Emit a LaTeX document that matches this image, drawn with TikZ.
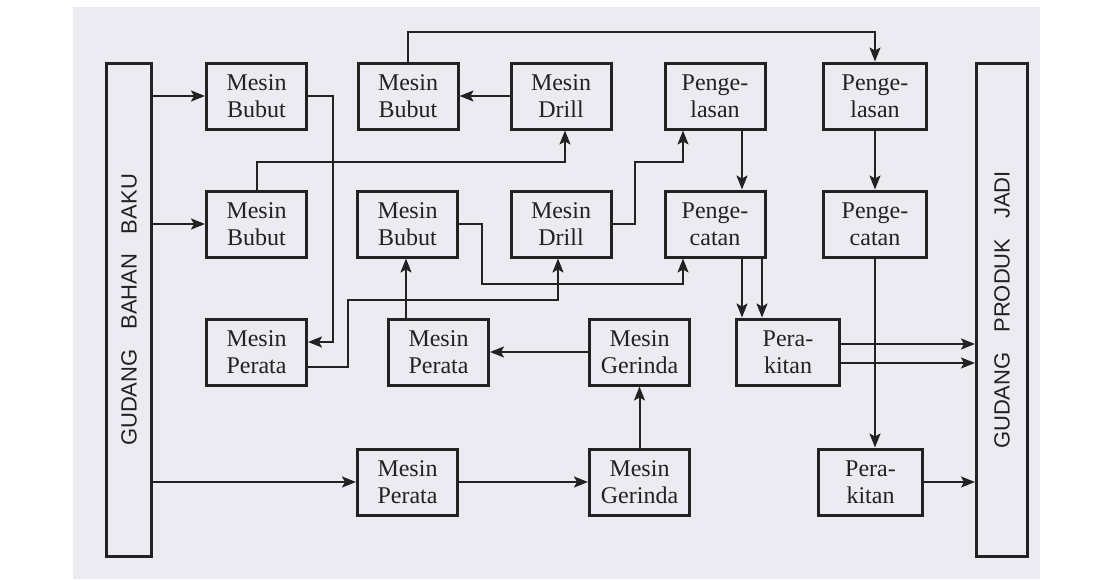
\documentclass[tikz,border=0pt]{standalone}
\usepackage{fontspec}
\setmainfont{Liberation Serif}
\newfontfamily\storefont{Liberation Sans}
\usetikzlibrary{arrows.meta,calc}
\definecolor{paper}{HTML}{EDEBF2}
\definecolor{ink}{HTML}{222222}

\begin{document}
\begin{tikzpicture}[x=1pt,y=-1pt,
  unit/.style={draw=ink, line width=3pt, minimum width=100pt, minimum height=66pt,
    inner sep=0pt, align=center, text=ink, font=\fontsize{24}{27}\selectfont},
  store/.style={draw=ink, line width=3pt, minimum height=493pt, inner sep=0pt,
    text=ink, font=\storefont\fontsize{22}{24}\selectfont},
  flow/.style={draw=ink, line width=2pt, -{Stealth[length=14pt,width=11pt,inset=3pt]}}
]
% sheet
\useasboundingbox (0,0) rectangle (1106,579);
\fill[white] (0,0) rectangle (1106,579);
\fill[paper] (73,7) rectangle (1040,579);

% warehouses
\node[store, minimum width=45pt] (gbb) at (129,310)
  {\rotatebox{90}{GUDANG\hspace{0.9em}BAHAN\hspace{0.9em}BAKU}};
\node[store, minimum width=51pt] (gpj) at (1002,310)
  {\rotatebox{90}{GUDANG\hspace{0.9em}PRODUK\hspace{0.9em}JADI}};

% row 1
\node[unit] (bb1) at (256.5,96) {Mesin\\Bubut};
\node[unit] (bb2) at (408,96)   {Mesin\\Bubut};
\node[unit] (dr1) at (561,96)   {Mesin\\Drill};
\node[unit] (pl1) at (715,96)   {Penge-\\lasan};
\node[unit, minimum width=103pt] (pl2) at (875,96) {Penge-\\lasan};
% row 2
\node[unit] (bb3) at (256.5,224) {Mesin\\Bubut};
\node[unit] (bb4) at (407.5,224) {Mesin\\Bubut};
\node[unit] (dr2) at (561,224)   {Mesin\\Drill};
\node[unit] (pc1) at (715,224)   {Penge-\\catan};
\node[unit, minimum width=103pt] (pc2) at (875,224) {Penge-\\catan};
% row 3
\node[unit] (pr1) at (256.5,352) {Mesin\\Perata};
\node[unit] (pr2) at (438.5,352) {Mesin\\Perata};
\node[unit] (gr1) at (639.5,352) {Mesin\\Gerinda};
\node[unit, minimum width=103pt] (pk1) at (788,352) {Pera-\\kitan};
% row 4
\node[unit] (pr3) at (407.5,482) {Mesin\\Perata};
\node[unit] (gr2) at (639.5,482) {Mesin\\Gerinda};
\node[unit, minimum width=104pt] (pk2) at (870.5,482) {Pera-\\kitan};

% bends
\coordinate (k1) at (333,342);
\coordinate (k2) at (348,300);
\coordinate (k3) at (558,300);
\coordinate (k4) at (482,284);
\coordinate (k5) at (683,284);
\coordinate (k6) at (565,162);
\coordinate (k8) at (635,162);
\coordinate (k9) at (683,162);

% raw material supply
\draw[flow] (bb1.west -| gbb.east) -- (bb1.west);
\draw[flow] (bb3.west -| gbb.east) -- (bb3.west);
\draw[flow] (pr3.west -| gbb.east) -- (pr3.west);

% machining routes
\draw[flow] (bb1.east) -| (k1) -- (k1 -| pr1.east);
\draw[flow] (pr1.east |- 0,367) -| (k2) -- (k3) -- (k3 |- dr2.south);
\draw[flow] (bb4.east) -| (k4) -- (k5) -- (k5 |- pc1.south);
\draw[flow] (pr2.north -| 406,0) -- (bb4.south -| 406,0);
\draw[flow] (gr1.west) -- (pr2.east);
\draw[flow] (gr2.north) -- (gr1.south);
\draw[flow] (pr3.east) -- (gr2.west);
\draw[flow] (bb3.north) |- (k6) -- (k6 |- dr1.south);
\draw[flow] (dr1.west) -- (bb2.east);
\draw[flow] (bb2.north) -- ++(0,-30) -| (pl2.north);
\draw[flow] (dr2.east) -| (k8) -- (k9) -- (k9 |- pl1.south);

% welding, painting, assembly
\draw[flow] (pl1.south -| 742,0) -- (pc1.north -| 742,0);
\draw[flow] (pc1.south -| 742,0) -- (pk1.north -| 742,0);
\draw[flow] (pc1.south -| 762,0) -- (pk1.north -| 762,0);
\draw[flow] (pl2.south) -- (pc2.north);
\draw[flow] (pc2.south) -- (pk2.north -| pc2.south);

% finished goods
\draw[flow] (pk1.east |- 0,344) -- (gpj.west |- 0,344);
\draw[flow] (pk1.east |- 0,363) -- (gpj.west |- 0,363);
\draw[flow] (pk2.east) -- (pk2.east -| gpj.west);
\end{tikzpicture}
\end{document}
